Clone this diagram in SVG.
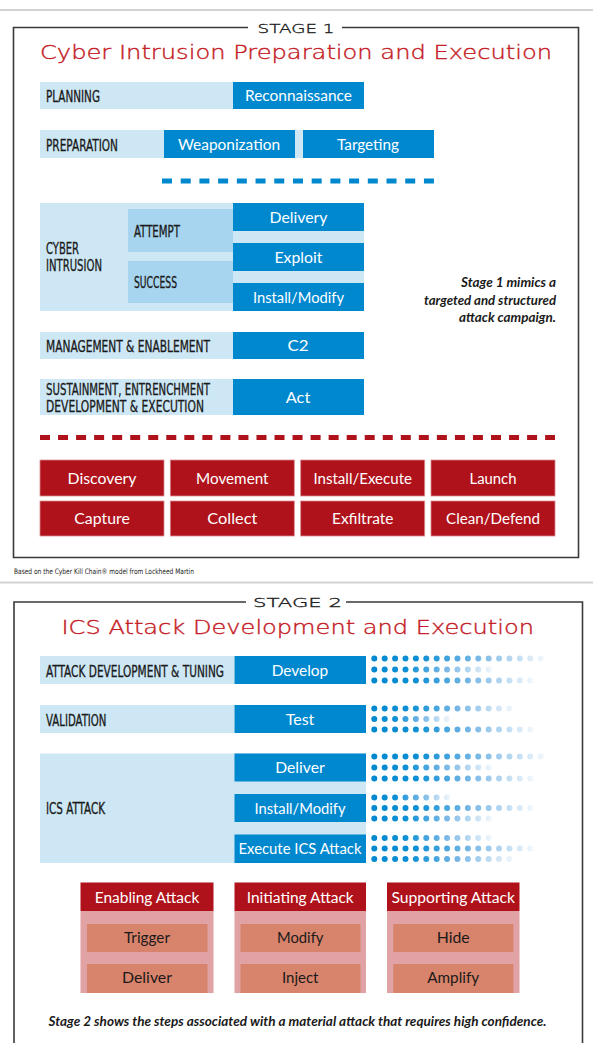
<svg xmlns="http://www.w3.org/2000/svg" width="593" height="1043" viewBox="0 0 593 1043">
<style>
.lb{fill:#cde7f5}
.mb{fill:#a7d4ee}
.db{fill:#0088cf}
.rd{fill:#b0121b;stroke:#d98a8e;stroke-width:0.8}
.hdr{fill:#b0121b}
.pk{fill:#e0a2a4}
.sm{fill:#d8836b}
.frame{fill:none;stroke:#3a3a3a;stroke-width:1.6}
.sep{stroke:#d2d2d2;stroke-width:2}
.stage{font-family:"DejaVu Sans",sans-serif;font-weight:200;font-size:13px;fill:#222;stroke:#222;stroke-width:0.35;text-anchor:middle}
.title{font-family:"DejaVu Sans",sans-serif;font-weight:200;font-size:19px;fill:#c41a24;stroke:#c41a24;stroke-width:0.35}
.lab{font-family:"DejaVu Sans Condensed","DejaVu Sans",sans-serif;font-stretch:condensed;font-size:15px;fill:#1a1a1a;stroke:#1a1a1a;stroke-width:0.3}
.box{font-family:Lato,"Open Sans",sans-serif;font-size:15.5px;fill:#fff;text-anchor:middle}
.dk{fill:#1a1a1a}
.cap{font-family:Lato,"Open Sans",sans-serif;font-style:italic;font-weight:bold;font-size:12.5px;fill:#1a1a1a}
.note{font-family:"DejaVu Sans Condensed","DejaVu Sans",sans-serif;font-stretch:condensed;font-size:7.5px;fill:#1a1a1a}
.dots{fill:none;stroke-width:6;stroke-linecap:round;stroke-dasharray:0 10.4}
</style>
<defs>
  <!-- fading dot trails, one per trail length -->
  <linearGradient id="f17" gradientUnits="userSpaceOnUse" x1="371" y1="0" x2="544" y2="0">
    <stop offset="0" stop-color="#0088cf"/><stop offset="0.28" stop-color="#0c8fd4"/><stop offset="0.62" stop-color="#7ab8e6"/><stop offset="1" stop-color="#f2f7fc"/>
  </linearGradient>
  <linearGradient id="f16" gradientUnits="userSpaceOnUse" x1="371" y1="0" x2="533" y2="0">
    <stop offset="0" stop-color="#0088cf"/><stop offset="0.28" stop-color="#0c8fd4"/><stop offset="0.62" stop-color="#7ab8e6"/><stop offset="1" stop-color="#f2f7fc"/>
  </linearGradient>
  <linearGradient id="f14" gradientUnits="userSpaceOnUse" x1="371" y1="0" x2="513" y2="0">
    <stop offset="0" stop-color="#0088cf"/><stop offset="0.28" stop-color="#0c8fd4"/><stop offset="0.62" stop-color="#7ab8e6"/><stop offset="1" stop-color="#f2f7fc"/>
  </linearGradient>
  <linearGradient id="f12" gradientUnits="userSpaceOnUse" x1="371" y1="0" x2="492" y2="0">
    <stop offset="0" stop-color="#0088cf"/><stop offset="0.28" stop-color="#0c8fd4"/><stop offset="0.62" stop-color="#7ab8e6"/><stop offset="1" stop-color="#f2f7fc"/>
  </linearGradient>
  <linearGradient id="f8" gradientUnits="userSpaceOnUse" x1="371" y1="0" x2="450" y2="0">
    <stop offset="0" stop-color="#0088cf"/><stop offset="0.3" stop-color="#0c8fd4"/><stop offset="0.65" stop-color="#7ab8e6"/><stop offset="1" stop-color="#f2f7fc"/>
  </linearGradient>
</defs>

<rect width="593" height="1043" fill="#fff"/>
<line class="sep" x1="0" y1="10" x2="593" y2="10"/>
<line class="sep" x1="0" y1="582.5" x2="593" y2="582.5"/>

<!-- ===== Stage 1 ===== -->
<g id="stage1">
  <path class="frame" d="M248,27.5 H13.5 V557.5 H578.5 V27.5 H342"/>
  <text class="stage" x="296" y="32.5" textLength="77" lengthAdjust="spacingAndGlyphs">STAGE 1</text>
  <text class="title" x="40" y="59" textLength="512" lengthAdjust="spacingAndGlyphs">Cyber Intrusion Preparation and Execution</text>
</g>

<g id="planning">
  <rect class="lb" x="40" y="82" width="193" height="27"/>
  <text class="lab" x="46" y="101.5" textLength="54" lengthAdjust="spacingAndGlyphs">PLANNING</text>
</g>
<g id="reconnaissance">
  <rect class="db" x="233" y="82" width="131" height="27"/>
  <text class="box" x="298.5" y="101" textLength="107" lengthAdjust="spacingAndGlyphs">Reconnaissance</text>
</g>

<g id="preparation">
  <rect class="lb" x="40" y="130" width="263" height="28"/>
  <text class="lab" x="46" y="150.5" textLength="72" lengthAdjust="spacingAndGlyphs">PREPARATION</text>
</g>
<g id="weaponization">
  <rect class="db" x="164" y="130" width="131" height="28"/>
  <text class="box" x="229" y="149.5" textLength="102" lengthAdjust="spacingAndGlyphs">Weaponization</text>
</g>
<g id="targeting">
  <rect class="db" x="303" y="130" width="131" height="28"/>
  <text class="box" x="368" y="149.5" textLength="62" lengthAdjust="spacingAndGlyphs">Targeting</text>
</g>

<g id="cyber-intrusion">
  <rect class="lb" x="40" y="203" width="324" height="108"/>
  <text class="lab" x="46" y="254" textLength="33" lengthAdjust="spacingAndGlyphs">CYBER</text>
  <text class="lab" x="46" y="270.5" textLength="56" lengthAdjust="spacingAndGlyphs">INTRUSION</text>
</g>
<g id="attempt">
  <rect class="mb" x="128" y="209" width="105" height="43"/>
  <text class="lab" x="134" y="236.5" textLength="46" lengthAdjust="spacingAndGlyphs">ATTEMPT</text>
</g>
<g id="success">
  <rect class="mb" x="128" y="261" width="105" height="42"/>
  <text class="lab" x="134" y="287.5" textLength="43" lengthAdjust="spacingAndGlyphs">SUCCESS</text>
</g>
<g id="delivery">
  <rect class="db" x="233" y="203" width="131" height="28"/>
  <text class="box" x="298.5" y="222.5" textLength="58" lengthAdjust="spacingAndGlyphs">Delivery</text>
</g>
<g id="exploit">
  <rect class="db" x="233" y="243" width="131" height="28"/>
  <text class="box" x="298.5" y="262.5" textLength="48" lengthAdjust="spacingAndGlyphs">Exploit</text>
</g>
<g id="install-modify-1">
  <rect class="db" x="233" y="283" width="131" height="28"/>
  <text class="box" x="298.5" y="302.5" textLength="91" lengthAdjust="spacingAndGlyphs">Install/Modify</text>
</g>

<g id="stage1-note">
  <text class="cap" x="556" y="287" text-anchor="end" textLength="95" lengthAdjust="spacingAndGlyphs">Stage 1 mimics a</text>
  <text class="cap" x="556" y="304.5" text-anchor="end" textLength="132" lengthAdjust="spacingAndGlyphs">targeted and structured</text>
  <text class="cap" x="556" y="322" text-anchor="end" textLength="97" lengthAdjust="spacingAndGlyphs">attack campaign.</text>
</g>

<g id="management">
  <rect class="lb" x="40" y="332" width="193" height="27"/>
  <text class="lab" x="46" y="351.5" textLength="164" lengthAdjust="spacingAndGlyphs">MANAGEMENT &amp; ENABLEMENT</text>
</g>
<g id="c2">
  <rect class="db" x="233" y="332" width="131" height="27"/>
  <text class="box" x="298" y="351" textLength="21" lengthAdjust="spacingAndGlyphs">C2</text>
</g>

<g id="sustainment">
  <rect class="lb" x="40" y="379" width="193" height="36"/>
  <text class="lab" x="46" y="395" textLength="164" lengthAdjust="spacingAndGlyphs">SUSTAINMENT, ENTRENCHMENT</text>
  <text class="lab" x="46" y="411.5" textLength="158" lengthAdjust="spacingAndGlyphs">DEVELOPMENT &amp; EXECUTION</text>
</g>
<g id="act">
  <rect class="db" x="233" y="379" width="131" height="36"/>
  <text class="box" x="298" y="402.5" textLength="24.5" lengthAdjust="spacingAndGlyphs">Act</text>
</g>

<g id="connectors">
  <line x1="162" y1="181" x2="434" y2="181" stroke="#0088cf" stroke-width="5" stroke-dasharray="10 8.71"/>
  <line x1="40" y1="437.5" x2="555" y2="437.5" stroke="#b0121b" stroke-width="5" stroke-dasharray="10 8.04"/>
</g>

<g id="discovery"><rect class="rd" x="40" y="460" width="124" height="36"/><text class="box" x="102" y="483.5" textLength="69" lengthAdjust="spacingAndGlyphs">Discovery</text></g>
<g id="movement"><rect class="rd" x="170.3" y="460" width="124" height="36"/><text class="box" x="232.3" y="483.5" textLength="72.5" lengthAdjust="spacingAndGlyphs">Movement</text></g>
<g id="install-execute"><rect class="rd" x="300.7" y="460" width="124" height="36"/><text class="box" x="362.7" y="483.5" textLength="98.5" lengthAdjust="spacingAndGlyphs">Install/Execute</text></g>
<g id="launch"><rect class="rd" x="431" y="460" width="124" height="36"/><text class="box" x="493" y="483.5" textLength="47" lengthAdjust="spacingAndGlyphs">Launch</text></g>
<g id="capture"><rect class="rd" x="40" y="501" width="124" height="35"/><text class="box" x="102" y="524" textLength="55.5" lengthAdjust="spacingAndGlyphs">Capture</text></g>
<g id="collect"><rect class="rd" x="170.3" y="501" width="124" height="35"/><text class="box" x="232.3" y="524" textLength="50" lengthAdjust="spacingAndGlyphs">Collect</text></g>
<g id="exfiltrate"><rect class="rd" x="300.7" y="501" width="124" height="35"/><text class="box" x="362.7" y="524" textLength="61.5" lengthAdjust="spacingAndGlyphs">Exfiltrate</text></g>
<g id="clean-defend"><rect class="rd" x="431" y="501" width="124" height="35"/><text class="box" x="493" y="524" textLength="94" lengthAdjust="spacingAndGlyphs">Clean/Defend</text></g>

<text class="note" x="14" y="573.5" textLength="180" lengthAdjust="spacingAndGlyphs">Based on the Cyber Kill Chain® model from Lockheed Martin</text>

<!-- ===== Stage 2 ===== -->
<g id="stage2">
  <path class="frame" d="M246,602 H14 V1046 M582.5,1046 V602 H346"/>
  <text class="stage" x="297.5" y="607" textLength="89" lengthAdjust="spacingAndGlyphs">STAGE 2</text>
  <text class="title" x="61.5" y="633.5" textLength="472.5" lengthAdjust="spacingAndGlyphs">ICS Attack Development and Execution</text>
</g>

<g id="attack-dev">
  <rect class="lb" x="40" y="656" width="194.5" height="28"/>
  <text class="lab" x="46" y="677" textLength="178" lengthAdjust="spacingAndGlyphs">ATTACK DEVELOPMENT &amp; TUNING</text>
</g>
<g id="develop">
  <rect class="db" x="234.5" y="656" width="131.5" height="28"/>
  <text class="box" x="300" y="675.5" textLength="56.5" lengthAdjust="spacingAndGlyphs">Develop</text>
</g>

<g id="validation">
  <rect class="lb" x="40" y="705" width="194.5" height="28"/>
  <text class="lab" x="46" y="725.5" textLength="60.5" lengthAdjust="spacingAndGlyphs">VALIDATION</text>
</g>
<g id="test">
  <rect class="db" x="234.5" y="705" width="131.5" height="28"/>
  <text class="box" x="300" y="724.5" textLength="28.5" lengthAdjust="spacingAndGlyphs">Test</text>
</g>

<g id="ics-attack">
  <rect class="lb" x="40" y="753.5" width="326" height="109.5"/>
  <text class="lab" x="46" y="814" textLength="59" lengthAdjust="spacingAndGlyphs">ICS ATTACK</text>
</g>
<g id="deliver">
  <rect class="db" x="234.5" y="753.5" width="131.5" height="28"/>
  <text class="box" x="300" y="773" textLength="49.5" lengthAdjust="spacingAndGlyphs">Deliver</text>
</g>
<g id="install-modify-2">
  <rect class="db" x="234.5" y="794" width="131.5" height="28"/>
  <text class="box" x="300" y="813.5" textLength="91" lengthAdjust="spacingAndGlyphs">Install/Modify</text>
</g>
<g id="execute-ics">
  <rect class="db" x="234.5" y="834.5" width="131.5" height="28.5"/>
  <text class="box" x="300" y="853.5" textLength="123" lengthAdjust="spacingAndGlyphs">Execute ICS Attack</text>
</g>

<!-- dot trails to the right of each stage 2 step -->
<g id="trails" class="dots">
  <line x1="374.3" y1="658.5" x2="540.8" y2="658.5" stroke="url(#f17)"/>
  <line x1="374.3" y1="669.5" x2="488.8" y2="669.5" stroke="url(#f12)"/>
  <line x1="374.3" y1="680.5" x2="530.4" y2="680.5" stroke="url(#f16)"/>

  <line x1="374.3" y1="708.5" x2="509.6" y2="708.5" stroke="url(#f14)"/>
  <line x1="374.3" y1="719" x2="447.2" y2="719" stroke="url(#f8)"/>
  <line x1="374.3" y1="729.5" x2="530.4" y2="729.5" stroke="url(#f16)"/>

  <line x1="374.3" y1="756.5" x2="540.8" y2="756.5" stroke="url(#f17)"/>
  <line x1="374.3" y1="767.5" x2="488.8" y2="767.5" stroke="url(#f12)"/>
  <line x1="374.3" y1="778.5" x2="530.4" y2="778.5" stroke="url(#f16)"/>

  <line x1="374.3" y1="797.5" x2="447.2" y2="797.5" stroke="url(#f8)"/>
  <line x1="374.3" y1="808" x2="530.4" y2="808" stroke="url(#f16)"/>
  <line x1="374.3" y1="818.5" x2="488.8" y2="818.5" stroke="url(#f12)"/>

  <line x1="374.3" y1="838" x2="488.8" y2="838" stroke="url(#f12)"/>
  <line x1="374.3" y1="848.5" x2="530.4" y2="848.5" stroke="url(#f16)"/>
  <line x1="374.3" y1="859" x2="509.6" y2="859" stroke="url(#f14)"/>
</g>

<g id="enabling-attack">
  <rect class="hdr" x="80.5" y="882.5" width="133" height="28.5"/>
  <rect class="pk" x="80.5" y="911" width="133" height="82"/>
  <text class="box" x="147" y="902.5" textLength="104.5" lengthAdjust="spacingAndGlyphs">Enabling Attack</text>
  <rect class="sm" x="87" y="924" width="120.5" height="28"/>
  <text class="box dk" x="147" y="943" textLength="46" lengthAdjust="spacingAndGlyphs">Trigger</text>
  <rect class="sm" x="87" y="964" width="120.5" height="29"/>
  <text class="box dk" x="147" y="983" textLength="50" lengthAdjust="spacingAndGlyphs">Deliver</text>
</g>
<g id="initiating-attack">
  <rect class="hdr" x="234.5" y="882.5" width="131.5" height="28.5"/>
  <rect class="pk" x="234.5" y="911" width="131.5" height="82"/>
  <text class="box" x="300.2" y="902.5" textLength="107" lengthAdjust="spacingAndGlyphs">Initiating Attack</text>
  <rect class="sm" x="240.5" y="924" width="120" height="28"/>
  <text class="box dk" x="300.2" y="943" textLength="46.5" lengthAdjust="spacingAndGlyphs">Modify</text>
  <rect class="sm" x="240.5" y="964" width="120" height="29"/>
  <text class="box dk" x="300.2" y="983" textLength="36.5" lengthAdjust="spacingAndGlyphs">Inject</text>
</g>
<g id="supporting-attack">
  <rect class="hdr" x="387" y="882.5" width="132.5" height="28.5"/>
  <rect class="pk" x="387" y="911" width="132.5" height="82"/>
  <text class="box" x="453.2" y="902.5" textLength="123.5" lengthAdjust="spacingAndGlyphs">Supporting Attack</text>
  <rect class="sm" x="393.3" y="924" width="120" height="28"/>
  <text class="box dk" x="453.2" y="943" textLength="33" lengthAdjust="spacingAndGlyphs">Hide</text>
  <rect class="sm" x="393.3" y="964" width="120" height="29"/>
  <text class="box dk" x="453.2" y="983" textLength="52" lengthAdjust="spacingAndGlyphs">Amplify</text>
</g>

<text class="cap" x="297.5" y="1026" text-anchor="middle" textLength="498" lengthAdjust="spacingAndGlyphs">Stage 2 shows the steps associated with a material attack that requires high confidence.</text>
</svg>
